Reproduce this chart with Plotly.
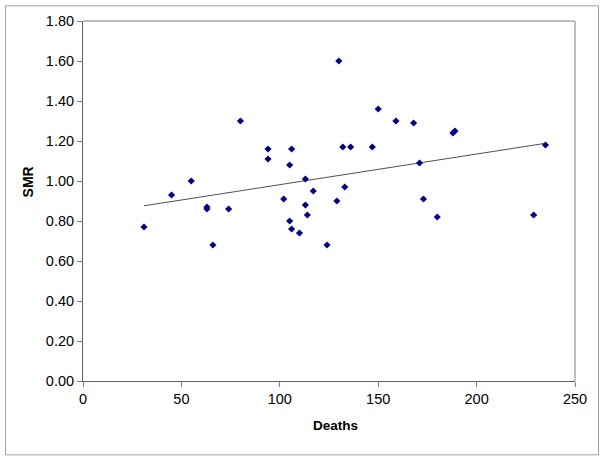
import numpy as np
import plotly.graph_objects as go

deaths = [31, 45, 55, 63, 63, 66, 74, 80, 94, 94, 102, 105, 105, 106, 106, 110,
          113, 113, 114, 117, 124, 129, 130, 132, 133, 136, 147, 150, 159, 168,
          171, 173, 180, 188, 189, 229, 235]
smr = [0.77, 0.93, 1.00, 0.87, 0.86, 0.68, 0.86, 1.30, 1.16, 1.11, 0.91, 1.08,
       0.80, 1.16, 0.76, 0.74, 1.01, 0.88, 0.83, 0.95, 0.68, 0.90, 1.60, 1.17,
       0.97, 1.17, 1.17, 1.36, 1.30, 1.29, 1.09, 0.91, 0.82, 1.24, 1.25, 0.83, 1.18]

x_ticks = [0, 50, 100, 150, 200, 250]
y_ticks = [0.0, 0.2, 0.4, 0.6, 0.8, 1.0, 1.2, 1.4, 1.6, 1.8]

slope, intercept = np.polyfit(deaths, smr, 1)
tx = [min(deaths), max(deaths)]
ty = [intercept + slope * v for v in tx]

fig = go.Figure()
fig.add_trace(go.Scatter(x=tx, y=ty, mode="lines",
                         line=dict(color="#505050", width=1), hoverinfo="skip"))
fig.add_trace(go.Scatter(x=deaths, y=smr, mode="markers",
                         marker=dict(symbol="diamond", size=5.5, color="#000080",
                                     line=dict(width=0))))

axis_common = dict(showgrid=False, zeroline=False, ticks="outside", ticklen=5,
                   tickcolor="#808080", showline=True, linecolor="#606060",
                   linewidth=1, automargin=False,
                   tickfont=dict(family="Liberation Sans, Arial", size=14.5, color="#000000"))

fig.update_xaxes(range=[0, 250], tickvals=x_ticks, ticktext=[str(v) for v in x_ticks],
                 **axis_common)
fig.update_yaxes(range=[0, 1.8], tickvals=y_ticks, ticktext=[f"{v:.2f}" for v in y_ticks],
                 **axis_common)

# plot area spans window px 83..575 x 20.7..381.5
PL, PR, PT, PB = 83, 575, 20.7, 381.5
def px(v):
    return (v - PL) / (PR - PL)
def py(v):
    return (PB - v) / (PB - PT)

fig.update_layout(
    width=605, height=462,
    margin=dict(l=PL, r=605 - PR, t=PT, b=462 - PB, pad=0),
    plot_bgcolor="white", paper_bgcolor="white",
    showlegend=False,
    shapes=[
        dict(type="line", xref="paper", yref="paper", x0=0, x1=1, y0=1, y1=1,
             line=dict(color="#808080", width=1)),
        dict(type="line", xref="paper", yref="paper", x0=1, x1=1, y0=0, y1=1,
             line=dict(color="#808080", width=1)),
        dict(type="rect", xref="paper", yref="paper",
             x0=px(5.5), x1=px(598.5), y0=py(455.5), y1=py(5.5),
             line=dict(color="#a0a0a0", width=1)),
    ],
    annotations=[
        dict(text="<b>Deaths</b>", xref="paper", yref="paper", x=px(335.5),
             y=py(426), showarrow=False, xanchor="center", yanchor="middle",
             font=dict(family="Liberation Sans, Arial", size=13.5, color="#000000")),
        dict(text="<b>SMR</b>", xref="paper", yref="paper", x=px(28),
             y=py(182.5), showarrow=False, xanchor="center", yanchor="middle",
             textangle=-90,
             font=dict(family="Liberation Sans, Arial", size=14, color="#000000")),
    ],
)

fig.write_html("out.html", config={"displayModeBar": False},
               post_script="document.body.style.margin='0';document.body.style.overflow='hidden';")
